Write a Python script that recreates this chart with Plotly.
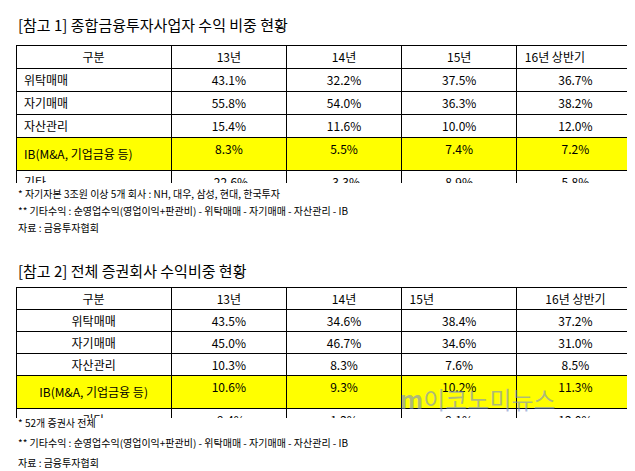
import plotly.graph_objects as go

FONT = "Noto Sans CJK KR"

# data
columns = ["구분", "13년", "14년", "15년", "16년 상반기"]
rows = ["위탁매매", "자기매매", "자산관리", "IB(M&A, 기업금융 등)", "기타"]

t1_13 = ["43.1%", "55.8%", "15.4%", "8.3%", "-22.6%"]
t1_14 = ["32.2%", "54.0%", "11.6%", "5.5%", "-3.3%"]
t1_15 = ["37.5%", "36.3%", "10.0%", "7.4%", "8.9%"]
t1_16 = ["36.7%", "38.2%", "12.0%", "7.2%", "5.8%"]

t2_13 = ["43.5%", "45.0%", "10.3%", "10.6%", "-9.4%"]
t2_14 = ["34.6%", "46.7%", "8.3%", "9.3%", "1.2%"]
t2_15 = ["38.4%", "34.6%", "7.6%", "10.2%", "9.1%"]
t2_16 = ["37.2%", "31.0%", "8.5%", "11.3%", "12.0%"]

title1 = "[참고 1] 종합금융투자사업자 수익 비중 현황"
title2 = "[참고 2] 전체 증권회사 수익비중 현황"
notes1 = ["* 자기자본 3조원 이상 5개 회사 : NH, 대우, 삼성, 현대, 한국투자",
          "** 기타수익 : 순영업수익(영업이익+판관비) - 위탁매매 - 자기매매 - 자산관리 - IB",
          "자료 : 금융투자협회"]
notes2 = ["* 52개 증권사 전체",
          "** 기타수익 : 순영업수익(영업이익+판관비) - 위탁매매 - 자기매매 - 자산관리 - IB",
          "자료 : 금융투자협회"]

W, H = 635, 471
YEL = "#ffff00"


def fills():
    return [["white", "white", "white", YEL, "white"]] * 5


def px(x0, x1, y0, y1):
    return dict(x=[x0 / W, x1 / W], y=[1 - y1 / H, 1 - y0 / H])


fig = go.Figure()

fig.add_trace(go.Table(
    domain=px(8, 626, 37, 176),
    columnwidth=[155, 115, 115, 115, 117],
    header=dict(values=columns, height=23, align=["center", "center", "center", "center", "left"],
                line=dict(color="black", width=1), fill_color="white",
                font=dict(family=FONT, size=12, color="black")),
    cells=dict(values=[rows, t1_13, t1_14, t1_15, t1_16], height=23,
               align=["left", "center", "center", "center", "center"],
               line=dict(color="black", width=1), fill_color=fills(),
               font=dict(family=FONT, size=12, color="black")),
))

fig.add_trace(go.Table(
    domain=px(8, 626, 279, 410),
    columnwidth=[155, 115, 115, 115, 117],
    header=dict(values=columns, height=22, align=["center", "center", "center", "left", "center"],
                line=dict(color="black", width=1), fill_color="white",
                font=dict(family=FONT, size=12, color="black")),
    cells=dict(values=[rows, t2_13, t2_14, t2_15, t2_16], height=22,
               align="center",
               line=dict(color="black", width=1), fill_color=fills(),
               font=dict(family=FONT, size=12, color="black")),
))

ann = [dict(text=title1, x=8 / W, y=1 - 17 / H, font=dict(size=15)),
       dict(text=title2, x=8 / W, y=1 - 262 / H, font=dict(size=15))]
for i, t in enumerate(notes1):
    ann.append(dict(text=t, x=8 / W, y=1 - (185 + 17 * i) / H, font=dict(size=10)))
for i, t in enumerate(notes2):
    ann.append(dict(text=t, x=8 / W, y=1 - (414 + 20 * i) / H, font=dict(size=10)))

for a in ann:
    fig.add_annotation(xref="paper", yref="paper", xanchor="left", yanchor="middle",
                       showarrow=False, font_family=FONT, font_color="black", **a)
fig.add_annotation(xref="paper", yref="paper", x=390 / W, y=1 - 410 / H, xanchor="left",
                   text="<b>m</b>이코노미뉴스", showarrow=False,
                   font=dict(family=FONT, size=24, color="rgba(120,140,200,0.6)"))

fig.update_layout(width=W, height=H, margin=dict(l=0, r=0, t=0, b=0),
                  paper_bgcolor="white", plot_bgcolor="white", showlegend=False)
fig.write_html("out.html")
